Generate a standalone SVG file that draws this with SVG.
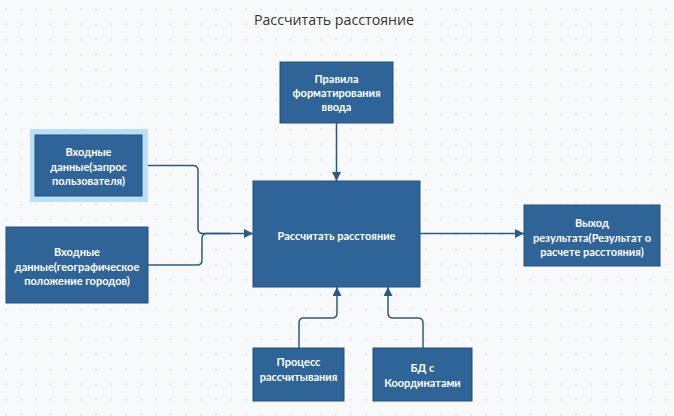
<svg xmlns="http://www.w3.org/2000/svg" width="674" height="416" viewBox="0 0 674 416">
<defs>
<pattern id="dots" x="0" y="0" width="15" height="15" patternUnits="userSpaceOnUse">
<circle cx="6" cy="9.5" r="1" fill="#dfe1e5"/>
</pattern>
<marker id="arr" viewBox="0 0 10 10" refX="10" refY="5" markerWidth="9" markerHeight="9" markerUnits="userSpaceOnUse" orient="auto">
<path d="M0,0 L10,5 L0,10 Z" fill="#2a5b88"/>
</marker>
<style>
.box{fill:#2f6499;stroke:#245080;stroke-width:1}
.t{font-family:Lato,"Open Sans","Liberation Sans",sans-serif;font-size:11px;font-weight:700;fill:#ffffff;text-anchor:middle}
.c{fill:none;stroke:#2a5b88;stroke-width:1.5}
</style>
</defs>
<rect width="674" height="416" fill="#f8f9fb"/>
<rect width="674" height="416" fill="url(#dots)"/>
<text x="334" y="25" font-family="'Open Sans','Liberation Sans',sans-serif" font-size="14.2" fill="#333333" text-anchor="middle">Рассчитать расстояние</text>

<g id="connectors">
<path class="c" d="M142 165.5 H193 Q198 165.5 198 170.5 V228.5 Q198 233.5 203 233.5 H253" marker-end="url(#arr)"/>
<path class="c" d="M148 265 H197 Q202 265 202 260 V238.5 Q202 233.5 207 233.5 H230"/>
<path class="c" d="M336.5 123 V181" marker-end="url(#arr)"/>
<path class="c" d="M420 233.5 H524" marker-end="url(#arr)"/>
<path class="c" d="M299 348 V323 Q299 318 304 318 H332 Q337 318 337 313 V287" marker-end="url(#arr)"/>
<path class="c" d="M423 348 V323 Q423 318 418 318 H393 Q388 318 388 313 V287" marker-end="url(#arr)"/>
</g>

<g id="node-rules">
<rect class="box" x="280" y="62" width="113" height="61"/>
<text class="t" x="336.5" y="83">Правила</text>
<text class="t" x="336.5" y="97">форматирования</text>
<text class="t" x="336.5" y="111">ввода</text>
</g>

<g id="node-main">
<rect class="box" x="253" y="181" width="167" height="106"/>
<text class="t" x="336.5" y="240">Рассчитать расстояние</text>
</g>

<g id="node-input1">
<rect x="30" y="129" width="118" height="73" fill="#b9e0f8"/>
<rect class="box" x="35" y="135" width="107" height="61"/>
<text class="t" x="88.5" y="156">Входные</text>
<text class="t" x="88.5" y="170.5">данные(запрос</text>
<text class="t" x="88.5" y="185">пользователя)</text>
</g>

<g id="node-input2">
<rect class="box" x="6" y="227" width="142" height="76"/>
<text class="t" x="77" y="256">Входные</text>
<text class="t" x="77" y="270.5">данные(географическое</text>
<text class="t" x="77" y="285">положение городов)</text>
</g>

<g id="node-output">
<rect class="box" x="524" y="205" width="136" height="61"/>
<text class="t" x="592" y="227">Выход</text>
<text class="t" x="592" y="241.5">результата(Результат о</text>
<text class="t" x="592" y="256">расчете расстояния)</text>
</g>

<g id="node-process">
<rect class="box" x="253" y="348" width="91" height="53"/>
<text class="t" x="298.5" y="366">Процесс</text>
<text class="t" x="298.5" y="381">рассчитывания</text>
</g>

<g id="node-db">
<rect class="box" x="373" y="348" width="99" height="53"/>
<text class="t" x="422.5" y="372">БД с</text>
<text class="t" x="422.5" y="387">Координатами</text>
</g>
</svg>
